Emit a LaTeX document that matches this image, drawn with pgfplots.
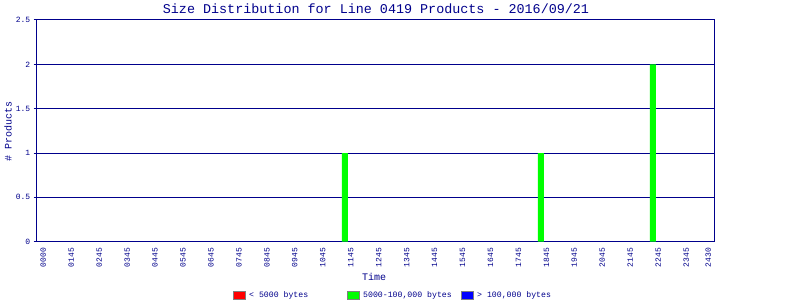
\documentclass[border=0pt]{standalone}
\usepackage{pgfplots}
\pgfplotsset{compat=1.18}
\usepackage{fontspec}
\setmainfont{Liberation Mono}
\definecolor{navy}{RGB}{0,0,140}
\definecolor{lgreen}{RGB}{0,255,0}
\begin{document}
\begin{tikzpicture}[x=1pt,y=1pt]
\path[use as bounding box, fill=white] (0,0) rectangle (800,300);
\begin{axis}[at={(36.5pt,58.3pt)}, anchor=south west, scale only axis,
  width=678pt, height=221.7pt,
  xmin=-0.243, xmax=24.015, ymin=0, ymax=2.5,
  xtick={0,1,2,3,4,5,6,7,8,9,10,11,12,13,14,15,16,17,18,19,20,21,22,23,23.79},
  xticklabels={0000,0145,0245,0345,0445,0545,0645,0745,0845,0945,1045,1145,1245,1345,1445,1545,1645,1745,1845,1945,2045,2145,2245,2345,2430},
  ytick={0,0.5,1,1.5,2,2.5},
  yticklabels={0,0.5,1,1.5,2,2.5},
  ytick pos=left, xtick pos=bottom,
  /pgf/number format/assume math mode=true,
  ymajorgrids, grid style={navy, line width=1pt},
  axis line style={navy, line width=1pt},
  major tick length=3pt, tick align=outside,
  xtick style={draw=none},
  ytick style={navy, line width=1pt},
  tick label style={font=\fontsize{8}{8}\selectfont, text=navy},
  xticklabel style={rotate=90, anchor=east, inner sep=0pt, xshift=-3pt},
  yticklabel style={inner sep=0pt, xshift=-3pt},
  clip=false,
]
\addplot[ybar, bar width=6pt, fill=lgreen, draw=none] coordinates {(10.79,1) (17.80,1) (21.81,2)};
\end{axis}
\node[text=navy, font=\fontsize{13.4}{14}\selectfont] at (376,291) {Size Distribution for Line 0419 Products - 2016/09/21};
\node[text=navy, rotate=90, font=\fontsize{10}{10}\selectfont] at (8,169) {\# Products};
\node[text=navy, font=\fontsize{10}{10}\selectfont] at (374,23) {Time};
\draw[gray, fill=red] (233,1) rectangle (245,9);
\node[anchor=west, text=navy, font=\fontsize{8.2}{8}\selectfont, inner sep=0pt] at (249,5) {< 5000 bytes};
\draw[gray, fill=lgreen] (347,1) rectangle (359,9);
\node[anchor=west, text=navy, font=\fontsize{8.2}{8}\selectfont, inner sep=0pt] at (363,5) {5000-100,000 bytes};
\draw[gray, fill=blue] (461,1) rectangle (473,9);
\node[anchor=west, text=navy, font=\fontsize{8.2}{8}\selectfont, inner sep=0pt] at (477,5) {> 100,000 bytes};
\end{tikzpicture}
\end{document}
